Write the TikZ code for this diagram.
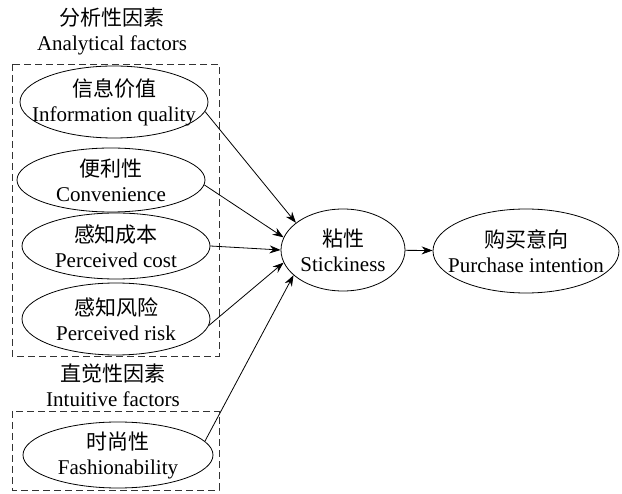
\documentclass[tikz,border=0pt]{standalone}
\usepackage{fontspec}
\setmainfont{Liberation Serif}
\newfontfamily\cjk{Noto Sans CJK SC}
\usetikzlibrary{shapes.geometric,arrows.meta}

\tikzset{
  factor/.style={ellipse, draw, line width=.8pt, inner sep=-18pt,
    minimum width=188pt, minimum height=68pt, align=center},
  group/.style={line width=.8pt, black!80, dash pattern=on 7pt off 4pt},
  title/.style={align=center},
}

\begin{document}
\begin{tikzpicture}[x=1pt, y=-1pt, >={Stealth[length=11pt,width=8pt]},
    font=\fontsize{21}{25}\selectfont]
  \useasboundingbox (0,0) rectangle (622,494);
  % dashed groups
  \draw [group] (12,64) rectangle (219,356);
  \draw [group] (12,411) rectangle (219,490);
  \node [title] (ana) at (112,31) {{\cjk 分析性因素}\\Analytical factors};
  \node [title] (intu) at (113,385) {{\cjk 直觉性因素}\\Intuitive factors};
  % factors
  \node [factor, minimum height=72pt] (info) at (114,102) {{\cjk 信息价值}\\Information quality};
  \node [factor, minimum height=64pt] (conv) at (111,180) {{\cjk 便利性}\\Convenience};
  \node [factor, minimum height=66pt] (cost) at (116,246) {{\cjk 感知成本}\\Perceived cost};
  \node [factor, minimum height=72pt] (risk) at (116,319) {{\cjk 感知风险}\\Perceived risk};
  \node [factor, minimum width=190pt, minimum height=66pt] (fash) at (118,455) {{\cjk 时尚性}\\Fashionability};
  % outcomes
  \node [factor, minimum width=124pt, minimum height=82pt] (stick) at (343,250) {{\cjk 粘性}\\Stickiness};
  \node [factor, minimum width=186pt, minimum height=84pt] (purch) at (526,251) {{\cjk 购买意向}\\Purchase intention};
  % paths
  \draw [->, line width=.8pt] (info.-6) -- (stick.150);
  \draw [->, line width=.8pt] (conv.-3) -- (stick.168);
  \draw [->, line width=.8pt] (cost.east) -- (stick.west);
  \draw [->, line width=.8pt] (risk.-4) -- (stick.192);
  \draw [->, line width=.8pt] (fash.9) -- (stick.207);
  \draw [->, line width=.8pt] (stick) -- (purch);
\end{tikzpicture}
\end{document}
